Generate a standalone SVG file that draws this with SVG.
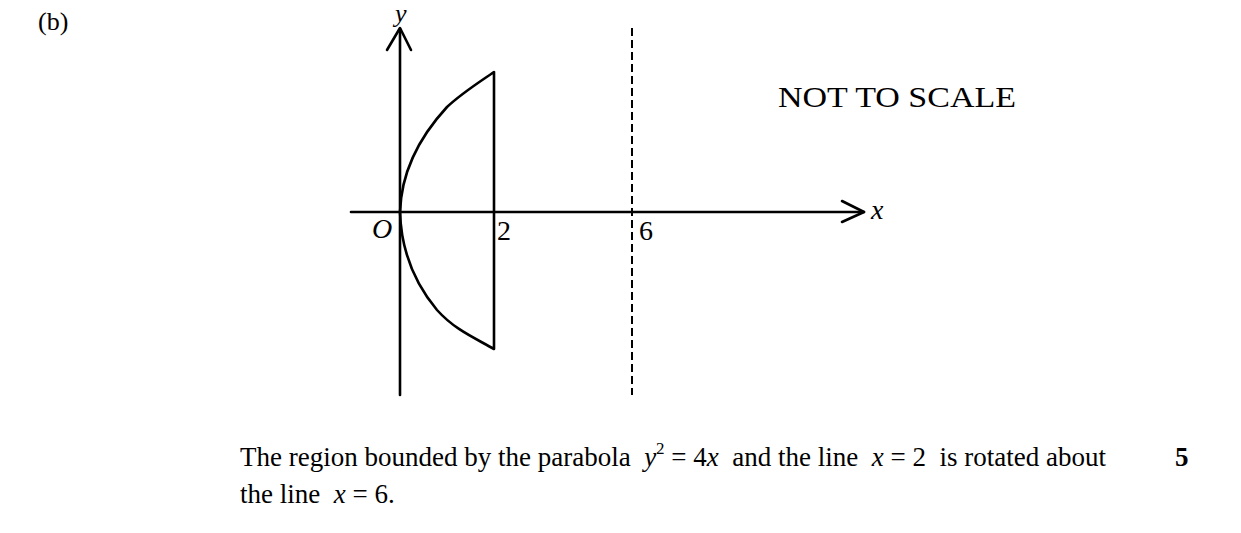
<svg xmlns="http://www.w3.org/2000/svg" width="1241" height="533" viewBox="0 0 1241 533">
<style>
.ln{stroke:#000;stroke-width:2.6;fill:none;stroke-linecap:round;stroke-linejoin:round}
.t{font-family:"Liberation Serif","Times New Roman",serif;fill:#000}
.i{font-style:italic}
.c{font-size:27px}
.l{font-size:28px}
</style>
<rect width="1241" height="533" fill="#fff"/>
<text class="t" x="38" y="30" font-size="26">(b)</text>
<g id="axes">
<line class="ln" x1="400" y1="29" x2="400" y2="395"/>
<polyline class="ln" points="387,50 400,28 411,50"/>
<line class="ln" x1="351" y1="212" x2="864" y2="212"/>
<polyline class="ln" points="842,201 864,212 842,222"/>
<line x1="632" y1="28" x2="632" y2="395" stroke="#000" stroke-width="2" stroke-dasharray="8 4"/>
</g>
<g id="region">
<path class="ln" d="M400,212 C401,180 412,145 447,107 C462,93 478,83 494,72 L494,349 C475,338 455,330 437,310 C412,280 401,245 400,212 Z"/>
</g>
<g id="labels">
<text class="t i" x="395" y="22" font-size="26">y</text>
<text class="t i l" x="871" y="219">x</text>
<text class="t i l" x="372" y="238">O</text>
<text class="t l" x="497" y="240">2</text>
<text class="t l" x="639" y="240">6</text>
<text class="t" x="778" y="107" font-size="30" textLength="238" lengthAdjust="spacingAndGlyphs">NOT TO SCALE</text>
</g>
<g id="caption">
<text class="t c" x="240" y="466" xml:space="preserve">The region bounded by the parabola  <tspan class="i">y</tspan><tspan font-size="17" dy="-12">2</tspan><tspan dy="12"> = 4</tspan><tspan class="i">x</tspan>  and the line  <tspan class="i">x</tspan> = 2  is rotated about</text>
<text class="t c" x="1175" y="466" font-weight="bold">5</text>
<text class="t c" x="240" y="503" xml:space="preserve">the line  <tspan class="i">x</tspan> = 6.</text>
</g>
</svg>
